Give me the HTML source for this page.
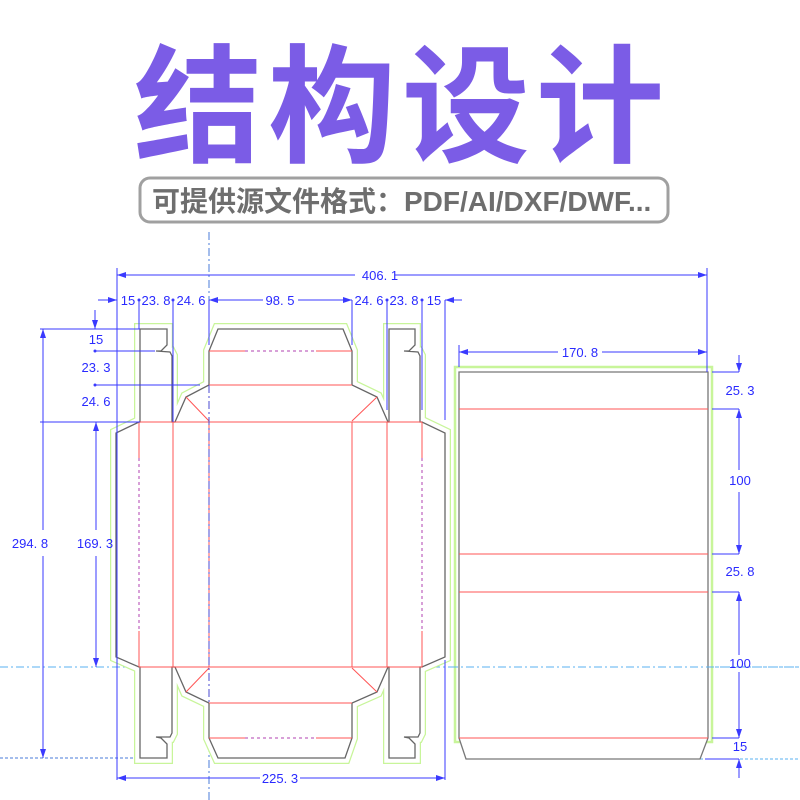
<!DOCTYPE html>
<html><head><meta charset="utf-8"><style>
html,body{margin:0;padding:0;background:#fff;width:800px;height:800px;overflow:hidden}
svg text.d{font-family:"Liberation Sans",sans-serif;font-size:13px;fill:#2a2aff}
</style></head><body>
<svg width="800" height="800" viewBox="0 0 800 800" xmlns="http://www.w3.org/2000/svg">
<text x="402" y="152" text-anchor="middle" font-family="'Liberation Sans','Noto Sans CJK SC',sans-serif" font-weight="bold" font-size="128" letter-spacing="6" fill="#7B5CE6">结构设计</text>
<rect x="140" y="178" width="528" height="44" rx="10" fill="#fff" stroke="#a0a0a0" stroke-width="3"/>
<text x="152" y="211" font-family="'Liberation Sans','Noto Sans CJK SC',sans-serif" font-weight="bold" font-size="28" fill="#6e6e6e">可提供源文件格式：PDF/AI/DXF/DWF...</text>

<line x1="209" y1="232" x2="209" y2="800" stroke="#4a7bd8" stroke-width="1" stroke-dasharray="8,3,2,3"/>
<line x1="0" y1="667" x2="800" y2="667" stroke="#5ab0f0" stroke-width="1" stroke-dasharray="8,3,2,3"/>
<line x1="0" y1="758" x2="170" y2="758" stroke="#4a7bd8" stroke-width="1" stroke-dasharray="3,2"/>
<line x1="700" y1="759" x2="800" y2="759" stroke="#5ab0f0" stroke-width="1" stroke-dasharray="3,2"/>

<g id="net">
<path d="M140,329 L167,329 L167,345 L161,351 L156,351 L170,352 L172,356 L172,422 L175,422 L186,397 L209,385 L209,351 L218,329 L343,329 L352,351 L352,385 L377,397 L388,422 L389,422 L389,329 L415,329 L415,345 L409,351 L404,351 L418,352 L420,356 L420,422 L422,422 L445,433 L445,657 L422,667 L420,667 L420,733 L418,737 L404,737 L409,738 L415,744 L415,758 L389,758 L389,667 L388,667 L377,692 L352,703 L352,738 L345,758 L218,758 L209,738 L209,703 L186,692 L175,667 L172,667 L172,733 L170,737 L156,737 L161,738 L167,744 L167,758 L140,758 L140,667 L139,667 L116,657 L116,433 L139,422 L140,422 Z" fill="none" stroke="#c8f59a" stroke-width="12" stroke-linejoin="miter"/>
<path d="M140,329 L167,329 L167,345 L161,351 L156,351 L170,352 L172,356 L172,422 L175,422 L186,397 L209,385 L209,351 L218,329 L343,329 L352,351 L352,385 L377,397 L388,422 L389,422 L389,329 L415,329 L415,345 L409,351 L404,351 L418,352 L420,356 L420,422 L422,422 L445,433 L445,657 L422,667 L420,667 L420,733 L418,737 L404,737 L409,738 L415,744 L415,758 L389,758 L389,667 L388,667 L377,692 L352,703 L352,738 L345,758 L218,758 L209,738 L209,703 L186,692 L175,667 L172,667 L172,733 L170,737 L156,737 L161,738 L167,744 L167,758 L140,758 L140,667 L139,667 L116,657 L116,433 L139,422 L140,422 Z" fill="#fff" stroke="#fff" stroke-width="9.5" stroke-linejoin="miter"/>
<path d="M140,329 L167,329 L167,345 L161,351 L156,351 L170,352 L172,356 L172,422 L175,422 L186,397 L209,385 L209,351 L218,329 L343,329 L352,351 L352,385 L377,397 L388,422 L389,422 L389,329 L415,329 L415,345 L409,351 L404,351 L418,352 L420,356 L420,422 L422,422 L445,433 L445,657 L422,667 L420,667 L420,733 L418,737 L404,737 L409,738 L415,744 L415,758 L389,758 L389,667 L388,667 L377,692 L352,703 L352,738 L345,758 L218,758 L209,738 L209,703 L186,692 L175,667 L172,667 L172,733 L170,737 L156,737 L161,738 L167,744 L167,758 L140,758 L140,667 L139,667 L116,657 L116,433 L139,422 L140,422 Z" fill="none" stroke="#666" stroke-width="1.3"/>
</g>
<g stroke="#f55" stroke-width="1" fill="none">
<line x1="139" y1="422" x2="422" y2="422"/>
<line x1="139" y1="667" x2="422" y2="667"/>
<line x1="173" y1="422" x2="173" y2="667"/>
<line x1="209" y1="422" x2="209" y2="667"/>
<line x1="352" y1="422" x2="352" y2="667"/>
<line x1="387" y1="422" x2="387" y2="667"/>
<line x1="209" y1="385" x2="352" y2="385"/>
<line x1="209" y1="703" x2="352" y2="703"/>
<line x1="209" y1="351" x2="245" y2="351"/><line x1="316" y1="351" x2="352" y2="351"/>
<line x1="209" y1="738" x2="245" y2="738"/><line x1="316" y1="738" x2="352" y2="738"/>
<line x1="186" y1="397" x2="209" y2="421"/><line x1="377" y1="397" x2="352" y2="421"/>
<line x1="186" y1="692" x2="209" y2="668"/><line x1="377" y1="692" x2="352" y2="668"/>
<line x1="139" y1="422" x2="139" y2="458"/><line x1="139" y1="631" x2="139" y2="667"/>
<line x1="422" y1="422" x2="422" y2="458"/><line x1="422" y1="631" x2="422" y2="667"/>
</g>
<g stroke="#b040b0" stroke-width="1" stroke-dasharray="3,3">
<line x1="245" y1="351" x2="316" y2="351"/><line x1="245" y1="738" x2="316" y2="738"/>
<line x1="139" y1="458" x2="139" y2="631"/><line x1="422" y1="458" x2="422" y2="631"/>
</g>
<line x1="209" y1="385" x2="209" y2="703" stroke="#4a4ad0" stroke-width="1" stroke-dasharray="8,3,2,3"/>

<rect x="455" y="367" width="257" height="375" fill="none" stroke="#c8f59a" stroke-width="2.5"/>
<path d="M459,372 L708,372 L708,738 L700,759 L466,759 L459,738 Z" fill="#fff" stroke="#777" stroke-width="1.3"/>
<g stroke="#f55" stroke-width="1">
<line x1="459" y1="409" x2="708" y2="409"/><line x1="459" y1="554" x2="708" y2="554"/>
<line x1="459" y1="592" x2="708" y2="592"/><line x1="459" y1="738" x2="708" y2="738"/>
</g>
<line x1="450" y1="667" x2="800" y2="667" stroke="#5ab0f0" stroke-width="1" stroke-dasharray="8,3,2,3"/>

<g stroke="#3a3aff" stroke-width="1" fill="none">
<line x1="117" y1="268" x2="117" y2="780"/>
<line x1="707" y1="268" x2="707" y2="372"/>
<line x1="117" y1="275" x2="355" y2="275"/><line x1="395" y1="275" x2="707" y2="275"/>
<line x1="98" y1="300" x2="117" y2="300"/>
<line x1="139" y1="300" x2="139" y2="329"/>
<line x1="173" y1="300" x2="173" y2="422"/>
<line x1="209" y1="300" x2="209" y2="345"/>
<line x1="352" y1="300" x2="352" y2="345"/>
<line x1="387" y1="300" x2="387" y2="410"/>
<line x1="422" y1="300" x2="422" y2="410"/>
<line x1="445" y1="300" x2="445" y2="420"/>
<line x1="445" y1="300" x2="462" y2="300"/>
<line x1="209" y1="300" x2="263" y2="300"/><line x1="298" y1="300" x2="352" y2="300"/>
<line x1="445" y1="660" x2="445" y2="780"/>
<line x1="117" y1="778" x2="260" y2="778"/><line x1="300" y1="778" x2="445" y2="778"/>
<line x1="40" y1="329" x2="140" y2="329"/>
<line x1="43" y1="329" x2="43" y2="530"/><line x1="43" y1="556" x2="43" y2="758"/>
<line x1="40" y1="422" x2="140" y2="422"/>
<line x1="96" y1="422" x2="96" y2="530"/><line x1="96" y1="556" x2="96" y2="667"/>
<line x1="95" y1="310" x2="95" y2="329"/>
<line x1="95" y1="351" x2="155" y2="351"/>
<line x1="95" y1="385" x2="200" y2="385"/>
<line x1="459" y1="345" x2="459" y2="367"/>
<line x1="459" y1="352" x2="558" y2="352"/><line x1="602" y1="352" x2="707" y2="352"/>
<line x1="712" y1="372" x2="739" y2="372"/><line x1="739" y1="355" x2="739" y2="372"/>
<line x1="712" y1="409" x2="739" y2="409"/><line x1="739" y1="409" x2="739" y2="470"/><line x1="739" y1="492" x2="739" y2="554"/>
<line x1="712" y1="554" x2="739" y2="554"/>
<line x1="712" y1="592" x2="739" y2="592"/><line x1="739" y1="592" x2="739" y2="655"/><line x1="739" y1="672" x2="739" y2="738"/>
<line x1="712" y1="738" x2="739" y2="738"/>
<line x1="705" y1="759" x2="739" y2="759"/><line x1="739" y1="759" x2="739" y2="778"/>
</g>
<g fill="#3a3aff">
<path d="M117,275 l9,-3 v6z"/><path d="M707,275 l-9,-3 v6z"/>
<path d="M117,300 l-9,-3 v6z"/><path d="M209,300 l9,-3 v6z"/><path d="M352,300 l-9,-3 v6z"/><path d="M445,300 l9,-3 v6z"/>
<path d="M117,778 l9,-3 v6z"/><path d="M445,778 l-9,-3 v6z"/>
<path d="M43,329 l-3,9 h6z"/><path d="M43,758 l-3,-9 h6z"/>
<path d="M96,422 l-3,9 h6z"/><path d="M96,667 l-3,-9 h6z"/><path d="M95,329 l-3,-9 h6z"/>
<path d="M459,352 l9,-3 v6z"/><path d="M707,352 l-9,-3 v6z"/>
<path d="M739,372 l-3,-9 h6z"/><path d="M739,409 l-3,9 h6z"/><path d="M739,554 l-3,-9 h6z"/>
<path d="M739,592 l-3,9 h6z"/><path d="M739,738 l-3,-9 h6z"/><path d="M739,759 l-3,9 h6z"/>
<circle cx="139" cy="300" r="1.5"/><circle cx="173" cy="300" r="1.5"/><circle cx="387" cy="300" r="1.5"/><circle cx="422" cy="300" r="1.5"/>
<circle cx="95" cy="351" r="1.5"/><circle cx="95" cy="385" r="1.5"/>
</g>
<text class="d" x="380" y="280" text-anchor="middle">406. 1</text>
<text class="d" x="128" y="305" text-anchor="middle">15</text>
<text class="d" x="156" y="305" text-anchor="middle">23. 8</text>
<text class="d" x="191" y="305" text-anchor="middle">24. 6</text>
<text class="d" x="280" y="305" text-anchor="middle">98. 5</text>
<text class="d" x="369" y="305" text-anchor="middle">24. 6</text>
<text class="d" x="404" y="305" text-anchor="middle">23. 8</text>
<text class="d" x="434" y="305" text-anchor="middle">15</text>
<text class="d" x="96" y="344" text-anchor="middle">15</text>
<text class="d" x="96" y="372" text-anchor="middle">23. 3</text>
<text class="d" x="96" y="406" text-anchor="middle">24. 6</text>
<text class="d" x="30" y="548" text-anchor="middle">294. 8</text>
<text class="d" x="95" y="548" text-anchor="middle">169. 3</text>
<text class="d" x="280" y="783" text-anchor="middle">225. 3</text>
<text class="d" x="580" y="357" text-anchor="middle">170. 8</text>
<text class="d" x="740" y="395" text-anchor="middle">25. 3</text>
<text class="d" x="740" y="485" text-anchor="middle">100</text>
<text class="d" x="740" y="576" text-anchor="middle">25. 8</text>
<text class="d" x="740" y="668" text-anchor="middle">100</text>
<text class="d" x="740" y="751" text-anchor="middle">15</text>
</svg>
</body></html>
